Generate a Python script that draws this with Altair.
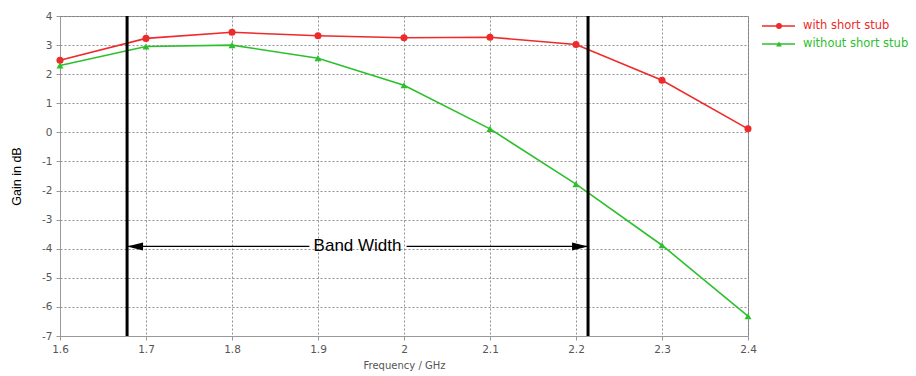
import altair as alt
import pandas as pd

freq = [1.6, 1.7, 1.8, 1.9, 2.0, 2.1, 2.2, 2.3, 2.4]
gain_with = [2.48, 3.23, 3.44, 3.32, 3.25, 3.27, 3.02, 1.79, 0.12]
gain_without = [2.3, 2.95, 3.0, 2.55, 1.62, 0.12, -1.78, -3.88, -6.32]
series = ["with short stub", "without short stub"]
colors = ["#ee2a2a", "#2cc02c"]
band_edges = [1.678, 2.214]
band_gap = [1.890, 2.003]
arrow_level = -3.92
band_label = "Band Width"
x_ticks = [1.6, 1.7, 1.8, 1.9, 2.0, 2.1, 2.2, 2.3, 2.4]
y_ticks = [-7, -6, -5, -4, -3, -2, -1, 0, 1, 2, 3, 4]

df_with = pd.DataFrame({"f": freq, "g": gain_with, "s": series[0]})
df_without = pd.DataFrame({"f": freq, "g": gain_without, "s": series[1]})

xs = alt.Scale(domain=[1.6, 2.4], nice=False, zero=False)
ys = alt.Scale(domain=[-7, 4], nice=False, zero=False)


def X(field):
    return alt.X(field, type="quantitative", scale=xs,
                 axis=alt.Axis(values=x_ticks, labelExpr="'' + datum.value", title="Frequency / GHz"))


def Y(field):
    return alt.Y(field, type="quantitative", scale=ys,
                 axis=alt.Axis(values=y_ticks, labelExpr="'' + datum.value", title="Gain in dB"))


line_with = alt.Chart(df_with).mark_line(color=colors[0], strokeWidth=1.6).encode(x=X("f"), y=Y("g"))
pts_with = alt.Chart(df_with).mark_point(color=colors[0], filled=True, opacity=1, shape="circle", size=50).encode(x=X("f"), y=Y("g"))
line_without = alt.Chart(df_without).mark_line(color=colors[1], strokeWidth=1.6).encode(x=X("f"), y=Y("g"))
pts_without = alt.Chart(df_without).mark_point(color=colors[1], filled=True, opacity=1, shape="triangle-up", size=50).encode(x=X("f"), y=Y("g"))

# band edges (vertical thick lines)
df_edges = pd.DataFrame({"f": band_edges, "g": [y_ticks[0]] * 2, "g2": [y_ticks[-1]] * 2})
edges = alt.Chart(df_edges).mark_rule(color="black", strokeWidth=3).encode(x=X("f"), y=Y("g"), y2="g2:Q")

# arrow segments
df_seg = pd.DataFrame({"f": [band_edges[0], band_gap[1]], "f2": [band_gap[0], band_edges[1]], "g": [arrow_level] * 2})
segs = alt.Chart(df_seg).mark_rule(color="black", strokeWidth=1.3).encode(x=X("f"), x2="f2:Q", y=Y("g"))

df_left = pd.DataFrame({"f": [band_edges[0]], "g": [arrow_level]})
df_right = pd.DataFrame({"f": [band_edges[1]], "g": [arrow_level]})
head_l = alt.Chart(df_left).mark_point(shape="M 0 0 L 2 -0.5 L 2 0.5 Z", filled=True, color="black", opacity=1, size=256).encode(x=X("f"), y=Y("g"))
head_r = alt.Chart(df_right).mark_point(shape="M 0 0 L -2 -0.5 L -2 0.5 Z", filled=True, color="black", opacity=1, size=256).encode(x=X("f"), y=Y("g"))

df_lbl = pd.DataFrame({"f": [(band_edges[0] + band_edges[1]) / 2], "g": [arrow_level], "t": [band_label]})
label = alt.Chart(df_lbl).mark_text(font="Liberation Sans", fontSize=17, color="black", baseline="middle", align="center").encode(x=X("f"), y=Y("g"), text="t:N")

# manual legend
legend_layers = []
for i, (name, col, shp) in enumerate(zip(series, colors, ["circle", "triangle-up"])):
    ly = 10 + 18 * i
    dfl = pd.DataFrame({"s": [name]})
    legend_layers.append(alt.Chart(dfl).mark_rule(color=col, strokeWidth=1.6).encode(x=alt.value(702), x2=alt.value(735), y=alt.value(ly)))
    legend_layers.append(alt.Chart(dfl).mark_point(color=col, filled=True, opacity=1, shape=shp, size=35).encode(x=alt.value(719), y=alt.value(ly)))
    legend_layers.append(alt.Chart(dfl).mark_text(color=col, font="DejaVu Sans", fontSize=11.5, align="left", baseline="middle").encode(x=alt.value(743), y=alt.value(ly), text="s:N"))

chart = alt.layer(
    line_with, line_without, pts_with, pts_without, edges, segs, head_l, head_r, label, *legend_layers
).properties(
    width=688, height=320,
    autosize=alt.AutoSizeParams(type="none"),
    padding={"left": 60, "top": 16, "right": 168, "bottom": 40},
    background="white",
).configure_view(
    stroke="#999999", strokeWidth=1
).configure_axis(
    gridColor="#777777", gridDash=[2, 2], gridOpacity=0.8, gridWidth=1,
    domainColor="#999999", tickColor="#999999", tickSize=4,
    labelColor="#555555", labelFont="DejaVu Sans", labelFontSize=10.5,
    labelOverlap=False, labelFlush=False, labelBound=False,
).configure_axisX(
    titleColor="#555555", titleFont="DejaVu Sans", titleFontSize=10, titleFontWeight="normal",
    titlePadding=6, labelPadding=4,
).configure_axisY(
    titleColor="black", titleFont="Liberation Sans", titleFontSize=12.5, titleFontWeight="normal",
    titlePadding=18, labelPadding=4,
)

chart.save("out.html", embed_options={"renderer": "svg", "actions": False})
